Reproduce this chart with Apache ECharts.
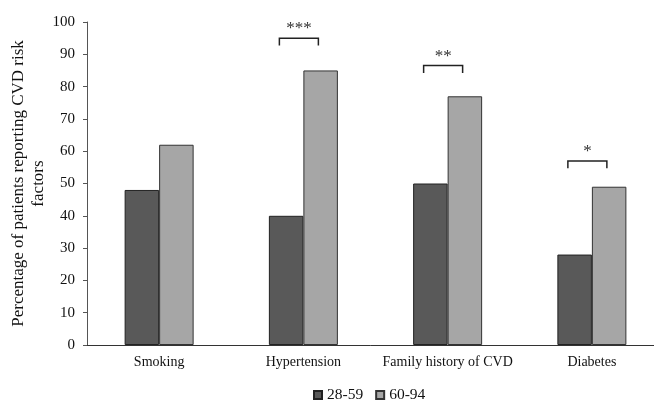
<!DOCTYPE html>
<html>
<head>
<meta charset="utf-8">
<script src="https://cdn.jsdelivr.net/npm/echarts@6/dist/echarts.min.js"></script>
<style>html,body{margin:0;padding:0;background:#fff;}#c{width:654px;height:401px;}</style>
</head>
<body>
<div id="c"></div>
<script>
var categories = ['Smoking', 'Hypertension', 'Family history of CVD', 'Diabetes'];
var seriesNames = ['28-59', '60-94'];
var valuesYoung = [48, 40, 50, 28];
var valuesOld = [62, 85, 77, 49];
var yTicks = [0, 10, 20, 30, 40, 50, 60, 70, 80, 90, 100];
var sigCategoryIndex = [1, 2, 3];
var sigHeights = [95, 86.5, 57];
var sigLabels = ['***', '**', '*'];

var sigData = sigCategoryIndex.map(function (c, i) { return [c, sigHeights[i], sigLabels[i]]; });
var font = 'Liberation Serif, Times New Roman, serif';

var chart = echarts.init(document.getElementById('c'));
chart.setOption({
  animation: false,
  backgroundColor: '#fff',
  grid: { left: 87, right: -10, top: 22, bottom: 56, containLabel: false, outerBoundsMode: 'none' },
  legend: {
    data: seriesNames,
    icon: 'rect',
    left: 308, top: 382,
    itemWidth: 8, itemHeight: 8, itemGap: 12,
    textStyle: { fontFamily: font, fontSize: 15.5, color: '#111' }
  },
  xAxis: {
    type: 'category',
    data: categories,
    axisLine: { lineStyle: { color: '#333', width: 1 } },
    axisTick: { show: false },
    axisLabel: { fontFamily: font, fontSize: 14, color: '#111', margin: 10, interval: 0 }
  },
  yAxis: {
    type: 'value', min: yTicks[0], max: yTicks[yTicks.length - 1], interval: 10,
    name: 'Percentage of patients reporting CVD risk\nfactors',
    nameLocation: 'middle', nameGap: 38, nameMoveOverlap: false,
    nameTextStyle: { fontFamily: font, fontSize: 17, color: '#111', lineHeight: 20 },
    axisLine: { show: true, lineStyle: { color: '#555', width: 1 } },
    axisTick: { show: true, length: 4, lineStyle: { color: '#555' } },
    splitLine: { show: false },
    axisLabel: { fontFamily: font, fontSize: 15, color: '#111', margin: 12 }
  },
  series: [
    {
      name: seriesNames[0], type: 'bar', data: valuesYoung,
      barWidth: 34.5, barGap: '0%',
      itemStyle: { color: '#595959', borderColor: '#222', borderWidth: 1 }
    },
    {
      name: seriesNames[1], type: 'bar', data: valuesOld,
      barWidth: 34.5, barGap: '0%',
      itemStyle: { color: '#a6a6a6', borderColor: '#333', borderWidth: 1 }
    },
    {
      type: 'custom', name: 'sig', data: sigData, z: 5,
      renderItem: function (params, api) {
        var top = api.coord([api.value(0), api.value(1)]);
        var bot = api.coord([api.value(0), api.value(1) - 2.3]);
        var x1 = top[0] - 24, x2 = top[0] + 15;
        return {
          type: 'group',
          children: [
            { type: 'polyline', shape: { points: [[x1, bot[1]], [x1, top[1]], [x2, top[1]], [x2, bot[1]]] },
              style: { stroke: '#222', lineWidth: 1.5, fill: null } },
            { type: 'text', style: { text: sigLabels[params.dataIndex], x: (x1 + x2) / 2, y: top[1] - 1,
              textAlign: 'center', textVerticalAlign: 'bottom', fontFamily: font, fontSize: 17, fill: '#333' } }
          ]
        };
      }
    }
  ]
});
</script>
</body>
</html>
